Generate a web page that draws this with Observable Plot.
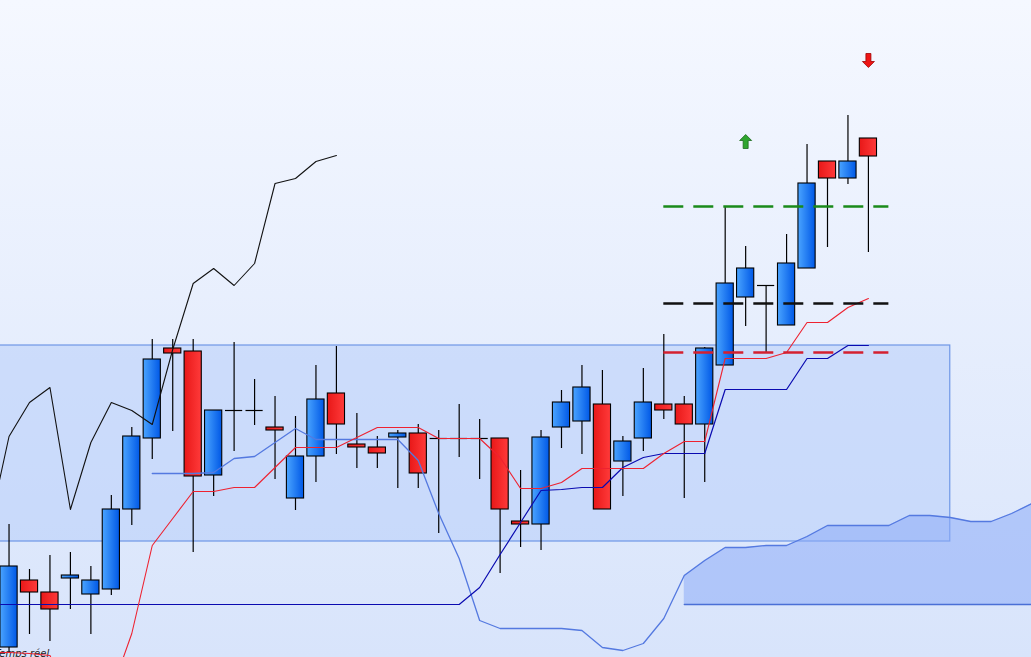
<!DOCTYPE html>
<html>
<head>
<meta charset="utf-8">
<script src="https://cdn.jsdelivr.net/npm/d3@7"></script>
<script src="https://cdn.jsdelivr.net/npm/@observablehq/plot@0.6"></script>
<style>
  html, body { margin: 0; padding: 0; background: #eef3fd; }
  #chart { width: 1031px; height: 657px; overflow: hidden; }
</style>
</head>
<body>
<div id="chart"></div>
<script>
// bougies (index 0 = premiere bougie visible a gauche)
const opens  = [1010, 1077, 1065, 1079, 1063, 1068, 1148, 1219, 1309, 1306, 1182, 1247, 1247, 1230, 1159, 1201, 1264, 1213, 1210, 1220, 1224, 1219, 1219, 1219, 1219, 1136, 1133, 1230, 1236, 1253, 1196, 1219, 1253, 1253, 1233, 1292, 1360, 1372, 1332, 1389, 1496, 1479, 1519]
const highs  = [1133, 1088, 1102, 1105, 1091, 1162, 1230, 1318, 1318, 1318, 1247, 1315, 1278, 1261, 1241, 1292, 1311, 1244, 1221, 1227, 1233, 1227, 1253, 1238, 1219, 1187, 1227, 1267, 1292, 1287, 1221, 1289, 1323, 1261, 1310, 1451, 1411, 1372, 1423, 1513, 1496, 1542, 1519]
const lows   = [1004, 1023, 1016, 1048, 1023, 1062, 1132, 1198, 1226, 1105, 1161, 1206, 1232, 1178, 1147, 1175, 1203, 1189, 1189, 1169, 1169, 1124, 1200, 1178, 1084, 1110, 1107, 1209, 1203, 1148, 1161, 1206, 1238, 1159, 1175, 1292, 1331, 1305, 1332, 1389, 1410, 1473, 1405]
const closes = [1091, 1065, 1048, 1082, 1077, 1148, 1221, 1298, 1304, 1181, 1247, 1247, 1247, 1227, 1201, 1258, 1233, 1210, 1204, 1224, 1184, 1219, 1219, 1219, 1148, 1133, 1220, 1255, 1270, 1148, 1216, 1255, 1247, 1233, 1309, 1374, 1389, 1372, 1394, 1474, 1479, 1496, 1501]

// lignes (index de depart entre parentheses)
const chikou  = [1127, 1221, 1255, 1270, 1148, 1215, 1255, 1247, 1233, 1308, 1374, 1389, 1372, 1394, 1474, 1479, 1496, 1502] // (-1)
const tenkan  = [1005, 1005, 1004, 1002, 957, 957, 966, 1024, 1112, 1139, 1166, 1166, 1170, 1170, 1190, 1210, 1210, 1210, 1220, 1230, 1230, 1230, 1219, 1219, 1219, 1200, 1169, 1169, 1175, 1189, 1189, 1189, 1189, 1204, 1216, 1216, 1299, 1299, 1299, 1305, 1335, 1335, 1350, 1359] // (-1)
const kijun   = [1053, 1053, 1053, 1053, 1053, 1053, 1053, 1053, 1053, 1053, 1053, 1053, 1053, 1053, 1053, 1053, 1053, 1053, 1053, 1053, 1053, 1053, 1053, 1053, 1070, 1103, 1135, 1167, 1168, 1170, 1170, 1190, 1200, 1204, 1204, 1204, 1268, 1268, 1268, 1268, 1299, 1299, 1312, 1312] // (-1)
const senkouA = [1184, 1184, 1184, 1185, 1199, 1201, 1215, 1229, 1218, 1218, 1218, 1218, 1218, 1197, 1144, 1099, 1037, 1029, 1029, 1029, 1029, 1027, 1010, 1007, 1014, 1039, 1082, 1097, 1110, 1110, 1112, 1112, 1121, 1132, 1132, 1132, 1132, 1142, 1142, 1140, 1136, 1136, 1144, 1154] // (7)
const senkouB = [1053, 1053, 1053, 1053, 1053, 1053, 1053, 1053, 1053, 1053, 1053, 1053, 1053, 1053, 1053, 1053, 1053, 1053] // (33)

// zone de range, niveaux et signaux
const rangeStart = -1, rangeEnd = 46, rangeLow = 1116, rangeHigh = 1312
const levelPrices = [1451, 1354, 1305]
const levelStart = 32, levelEnd = 43
const signalIndex = [36, 42]
const signalPrice = [1516, 1597]
const signalType = ['achat', 'vente']

const candles = opens.map((o, i) => ({i, open: o, high: highs[i], low: lows[i], close: closes[i]}))
const up = candles.filter(d => d.close > d.open)
const down = candles.filter(d => d.close < d.open)
const doji = candles.filter(d => d.close === d.open)

const serie = (vals, start) => vals.map((v, k) => ({i: start + k, v}))
const cloud = senkouB.map((b, k) => ({i: 33 + k, b, a: senkouA[33 - 7 + k]}))
const levels = levelPrices.map((p, k) => ({p, k}))
const levelColors = ['#1a8a1a', '#111111', '#d42030']
const signals = signalIndex.map((i, k) => ({i, p: signalPrice[k], t: signalType[k]}))

const arrowUp = {draw(ctx) {
  ctx.moveTo(0, -7); ctx.lineTo(6, -1); ctx.lineTo(2.5, -1); ctx.lineTo(2.5, 7)
  ctx.lineTo(-2.5, 7); ctx.lineTo(-2.5, -1); ctx.lineTo(-6, -1); ctx.closePath()
}}
const arrowDown = {draw(ctx) {
  ctx.moveTo(0, 7); ctx.lineTo(6, 1); ctx.lineTo(2.5, 1); ctx.lineTo(2.5, -7)
  ctx.lineTo(-2.5, -7); ctx.lineTo(-2.5, 1); ctx.lineTo(-6, 1); ctx.closePath()
}}

const w = 0.42

let chart = Plot.plot({
  width: 1031,
  height: 657,
  margin: 0,
  style: 'background: linear-gradient(#f5f8ff, #d8e4fb); font-family: "DejaVu Sans", sans-serif;',
  x: {domain: [-0.417, 49.97], axis: null},
  y: {domain: [1000, 1657], axis: null},
  marks: [
    // zone de range
    Plot.rect([0], {
      x1: rangeStart, x2: rangeEnd, y1: rangeLow, y2: rangeHigh,
      fill: '#b4cbf9', fillOpacity: 0.5, stroke: '#6f97e6', strokeWidth: 1.2, clip: true
    }),
    // nuage
    Plot.areaY(cloud, {x: 'i', y1: 'b', y2: 'a', fill: '#8cabf7', fillOpacity: 0.55, clip: true}),
    Plot.lineY(cloud, {x: 'i', y: 'b', stroke: '#4a6fd6', strokeWidth: 1.3, clip: true}),

    // meches et corps
    Plot.ruleX(candles, {x: 'i', y1: 'low', y2: 'high', stroke: '#000', strokeWidth: 1.2, clip: true}),
    Plot.rect(up, {
      x1: d => d.i - w, x2: d => d.i + w, y1: 'open', y2: 'close',
      fill: 'url(#upGrad)', stroke: '#000', strokeWidth: 1.1, clip: true
    }),
    Plot.rect(down, {
      x1: d => d.i - w, x2: d => d.i + w, y1: 'open', y2: 'close',
      fill: 'url(#downGrad)', stroke: '#000', strokeWidth: 1.1, clip: true
    }),
    Plot.ruleY(doji, {x1: d => d.i - w, x2: d => d.i + w, y: 'open', stroke: '#000', strokeWidth: 1.2}),

    Plot.text(['Temps réel'], {
      frameAnchor: 'bottom-left', dx: -6, dy: -1, fontStyle: 'italic', fontSize: 10,
      fill: '#222', fontFamily: 'DejaVu Sans'
    }),

    // lignes
    Plot.lineY(serie(chikou, -1), {x: 'i', y: 'v', stroke: '#111', strokeWidth: 1.1, clip: true}),
    Plot.lineY(serie(senkouA, 7), {x: 'i', y: 'v', stroke: '#5479e0', strokeWidth: 1.3, clip: true}),
    Plot.lineY(serie(kijun, -1), {x: 'i', y: 'v', stroke: '#0a0ab0', strokeWidth: 1.2, clip: true}),
    Plot.lineY(serie(tenkan, -1), {x: 'i', y: 'v', stroke: '#ee2230', strokeWidth: 1.1, clip: true}),

    // niveaux
    Plot.ruleY(levels, {
      y: 'p', x1: levelStart, x2: levelEnd, stroke: d => levelColors[d.k],
      strokeWidth: 2.6, strokeDasharray: '20,10'
    }),

    // signaux
    Plot.dot(signals.filter(d => d.t === 'achat'), {
      x: 'i', y: 'p', symbol: arrowUp, fill: '#2fa52f', stroke: '#1c6a1c', strokeWidth: 0.8
    }),
    Plot.dot(signals.filter(d => d.t === 'vente'), {
      x: 'i', y: 'p', symbol: arrowDown, fill: '#ee1515', stroke: '#a00000', strokeWidth: 0.8
    })
  ]
})

// degrades des corps de bougies
const defs = d3.select(chart).insert('defs', ':first-child')
const grad = (id, c0, c1) => {
  const g = defs.append('linearGradient').attr('id', id).attr('x1', 0).attr('x2', 1).attr('y1', 0).attr('y2', 0)
  g.append('stop').attr('offset', '0%').attr('stop-color', c0)
  g.append('stop').attr('offset', '100%').attr('stop-color', c1)
}
grad('upGrad', '#4aa4ff', '#0058e6')
grad('downGrad', '#e81818', '#ff3a3a')

d3.select('#chart').append(() => chart)
</script>
</body>
</html>
